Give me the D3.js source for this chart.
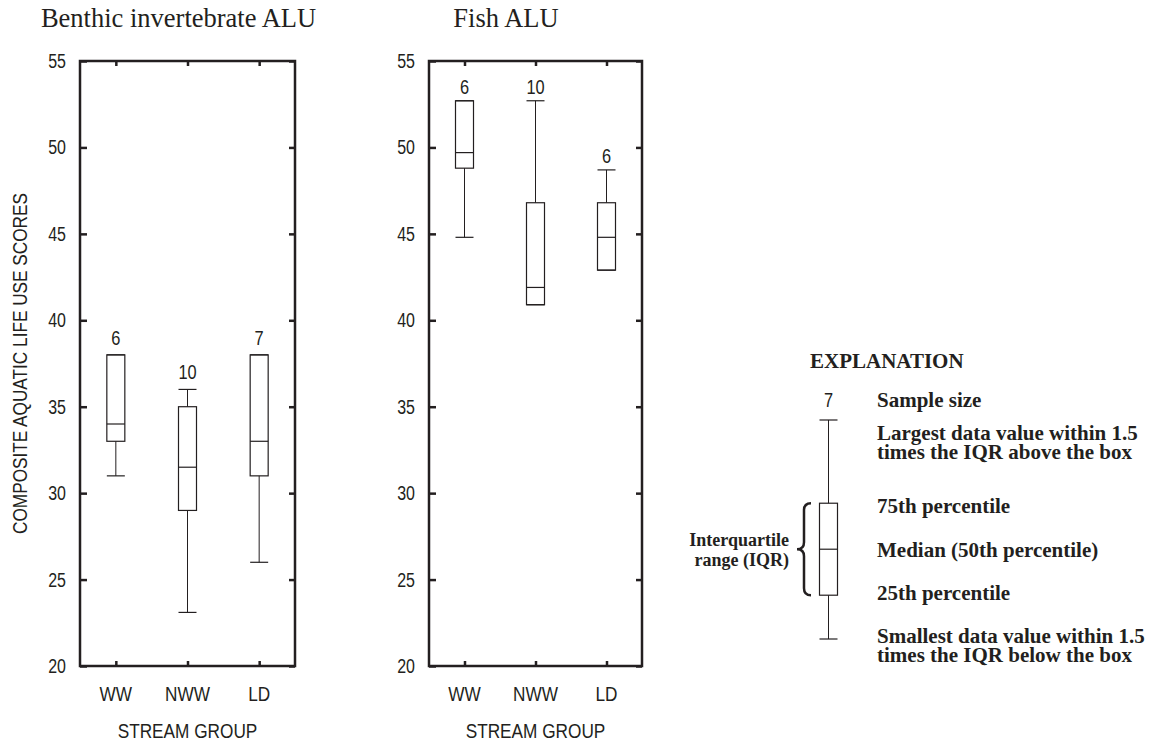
<!DOCTYPE html>
<html>
<head>
<meta charset="utf-8">
<script src="https://cdn.jsdelivr.net/npm/d3@7"></script>
<style>
  body { margin: 0; background: #fff; }
  .sans { font-family: "Liberation Sans", Arial, sans-serif; fill: #231f20; }
  .serif { font-family: "Liberation Serif", "Times New Roman", serif; fill: #231f20; }
</style>
</head>
<body>
<svg></svg>
<script>
var width = 1152;
var height = 743;

var svg = d3.select("svg")
            .attr("width", width)
            .attr("height", height);

// stream groups and box statistics: [low whisker, q1, median, q3, high whisker]
var groups = ["WW", "NWW", "LD"];
var benthicStats = [
  [31, 33, 34, 38, 38],
  [23.1, 29, 31.5, 35, 36],
  [26, 31, 33, 38, 38]
];
var benthicN = [6, 10, 7];
var fishStats = [
  [44.8, 48.8, 49.7, 52.7, 52.7],
  [40.9, 40.9, 41.9, 46.8, 52.7],
  [42.9, 42.9, 44.8, 46.8, 48.7]
];
var fishN = [6, 10, 6];
var yTicks = [20, 25, 30, 35, 40, 45, 50, 55];

// explanation schematic box (arbitrary units)
var legendStats = [0, 2, 4.1, 6.2, 10];
var legendLabels = [
  ["Smallest data value within 1.5", "times the IQR below the box"],
  ["25th percentile"],
  ["Median (50th percentile)"],
  ["75th percentile"],
  ["Largest data value within 1.5", "times the IQR above the box"]
];

var ink = "#231f20";
var plotTop = 61, plotBottom = 666;
var boxW = 18;
var sx = 0.82; // condensed sans look

var y = d3.scaleLinear().domain([20, 55]).range([plotBottom, plotTop]);

// narrow sans text: squeeze horizontally around its anchor
function narrow(sel, xFn) {
  sel.attr("class", "sans")
     .attr("transform", "scale(" + sx + ",1)")
     .attr("x", function(d, i) { return (typeof xFn === "function" ? xFn(d, i) : xFn) / sx; });
  return sel;
}

function drawPanel(x0, x1, title, titleX, stats, counts, countGap) {
  var g = svg.append("g");
  var x = d3.scalePoint().domain(groups).range([x0, x1]).padding(0.5);

  g.append("text")
      .attr("class", "serif")
      .attr("x", titleX)
      .attr("y", 27)
      .attr("text-anchor", "middle")
      .style("font-size", "26.5px")
      .text(title);

  // left axis with labels
  g.append("g")
      .attr("transform", "translate(" + x0 + ",0)")
      .call(d3.axisRight(y).tickValues(yTicks).tickSize(7).tickFormat(""))
      .call(styleAxis);
  g.selectAll(".ylab")
      .data(yTicks)
    .enter().append("text")
      .call(narrow, x0 - 14)
      .attr("y", function(d) { return y(d); })
      .attr("dy", "0.36em")
      .attr("text-anchor", "end")
      .style("font-size", "19.5px")
      .text(function(d) { return d; });

  // right axis, ticks only
  g.append("g")
      .attr("transform", "translate(" + x1 + ",0)")
      .call(d3.axisLeft(y).tickValues(yTicks).tickSize(6).tickFormat(""))
      .call(styleAxis);

  // top and bottom
  g.append("g")
      .attr("transform", "translate(0," + plotTop + ")")
      .call(d3.axisBottom(x).tickSize(5).tickFormat(""))
      .call(styleAxis);
  g.append("g")
      .attr("transform", "translate(0," + plotBottom + ")")
      .call(d3.axisTop(x).tickSize(5).tickFormat(""))
      .call(styleAxis);

  g.append("rect")
      .attr("x", x0)
      .attr("y", plotTop)
      .attr("width", x1 - x0)
      .attr("height", plotBottom - plotTop)
      .attr("fill", "none")
      .attr("stroke", ink)
      .attr("stroke-width", 2.5);

  g.selectAll(".xlab")
      .data(groups)
    .enter().append("text")
      .call(narrow, function(d) { return x(d); })
      .attr("y", 701)
      .attr("text-anchor", "middle")
      .style("font-size", "21px")
      .text(function(d) { return d; });

  g.append("text")
      .call(narrow, (x0 + x1) / 2)
      .attr("y", 738)
      .attr("text-anchor", "middle")
      .style("font-size", "21px")
      .text("STREAM GROUP");

  var box = g.selectAll(".box")
      .data(stats)
    .enter().append("g")
      .attr("transform", function(d, i) { return "translate(" + x(groups[i]) + ",0)"; });

  drawBox(box, y);

  box.append("text")
      .call(narrow, 0)
      .attr("y", function(d) { return y(d[4]) - countGap; })
      .attr("text-anchor", "middle")
      .style("font-size", "20px")
      .text(function(d, i) { return counts[i]; });
}

function drawBox(sel, scale) {
  sel.append("line")
      .attr("y1", function(d) { return scale(d[0]); })
      .attr("y2", function(d) { return scale(d[4]); })
      .attr("stroke", ink).attr("stroke-width", 1);
  sel.append("rect")
      .attr("x", -boxW / 2)
      .attr("y", function(d) { return scale(d[3]); })
      .attr("width", boxW)
      .attr("height", function(d) { return scale(d[1]) - scale(d[3]); })
      .attr("fill", "#fff")
      .attr("stroke", ink).attr("stroke-width", 1.2);
  [0, 2, 4].forEach(function(k) {
    sel.append("line")
        .attr("x1", -boxW / 2).attr("x2", boxW / 2)
        .attr("y1", function(d) { return scale(d[k]); })
        .attr("y2", function(d) { return scale(d[k]); })
        .attr("stroke", ink).attr("stroke-width", 1.2);
  });
}

function styleAxis(a) {
  a.select(".domain").remove();
  a.selectAll(".tick line").attr("stroke", ink).attr("stroke-width", 2.5);
}

drawPanel(80, 295, "Benthic invertebrate ALU", 178.5, benthicStats, benthicN, 10);
drawPanel(429, 642, "Fish ALU", 506, fishStats, fishN, 7);

svg.append("text")
    .attr("class", "sans")
    .attr("transform", "translate(27," + (plotTop + plotBottom) / 2 + ") rotate(-90) scale(" + sx + ",1)")
    .attr("text-anchor", "middle")
    .style("font-size", "21px")
    .text("COMPOSITE AQUATIC LIFE USE SCORES");

// explanation
var ly = d3.scaleLinear().domain([0, 10]).range([639, 420]);
var lx = 828.5;
var leg = svg.append("g");

leg.append("text")
    .attr("class", "serif")
    .attr("x", 810).attr("y", 368)
    .style("font-size", "21px").style("font-weight", "bold")
    .text("EXPLANATION");

leg.append("text")
    .call(narrow, lx)
    .attr("y", 407)
    .attr("text-anchor", "middle")
    .style("font-size", "20px")
    .text("7");
leg.append("text")
    .attr("class", "serif")
    .attr("x", 877).attr("y", 407)
    .style("font-size", "21px").style("font-weight", "bold")
    .text("Sample size");

drawBox(leg.append("g").datum(legendStats).attr("transform", "translate(" + lx + ",0)"), ly);

var labelShift = [4, 5, 8, 10, 20];
legendLabels.forEach(function(lines, i) {
  var t = leg.append("text")
      .attr("class", "serif")
      .attr("x", 877)
      .attr("y", ly(legendStats[i]) + labelShift[i])
      .style("font-size", "21px").style("font-weight", "bold");
  lines.forEach(function(s, j) {
    t.append("tspan").attr("x", 877).attr("dy", j ? 18.5 : 0).text(s);
  });
});

// brace around the IQR
var bt = ly(legendStats[3]), bb = ly(legendStats[1]), bm = (bt + bb) / 2;
var xr = 811, xm = 804, xl = 797, r = 7;
leg.append("path")
    .attr("d", "M" + xr + "," + bt +
      "Q" + xm + "," + bt + " " + xm + "," + (bt + r) +
      "L" + xm + "," + (bm - r) +
      "Q" + xm + "," + bm + " " + xl + "," + bm +
      "Q" + xm + "," + bm + " " + xm + "," + (bm + r) +
      "L" + xm + "," + (bb - r) +
      "Q" + xm + "," + bb + " " + xr + "," + bb)
    .attr("fill", "none")
    .attr("stroke", ink)
    .attr("stroke-width", 2.5);

leg.append("text")
    .attr("class", "serif")
    .attr("text-anchor", "end")
    .attr("x", 789).attr("y", bm - 3)
    .style("font-size", "18px").style("font-weight", "bold")
    .selectAll("tspan")
    .data(["Interquartile", "range (IQR)"])
  .enter().append("tspan")
    .attr("x", 789)
    .attr("dy", function(d, i) { return i ? 20 : 0; })
    .text(function(d) { return d; });
</script>
</body>
</html>
